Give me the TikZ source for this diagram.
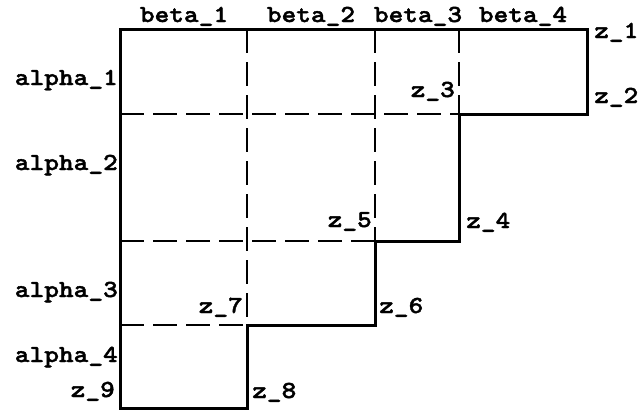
\documentclass[tikz,border=0pt]{standalone}
\usepackage{fontspec}
\newfontfamily\courfont[FakeStretch=1.143,FakeBold=1.6]{lmmonolt10-bold.otf}
\begin{document}
\begin{tikzpicture}[x=1pt,y=-1pt,
  outline/.style={line width=3pt},
  grid/.style={line width=1.5pt,dash pattern=on 24pt off 9pt},
  lbl/.style={inner sep=0pt,font=\fontsize{24.5}{28}\selectfont\courfont}]
\useasboundingbox (0,0) rectangle (639,413);
% corner coordinates
\coordinate (z1) at (587,29);
\coordinate (z2) at (587,114);
\coordinate (z3) at (459,114);
\coordinate (z4) at (459,241);
\coordinate (z5) at (375,241);
\coordinate (z6) at (375,325);
\coordinate (z7) at (247,325);
\coordinate (z8) at (247,408);
\coordinate (z9) at (120,408);
\coordinate (z0) at (120,29);
% dashed grid
\draw[grid] (247,29) -- (z7);
\draw[grid] (375,29) -- (z5);
\draw[grid] (459,29) -- (z3);
\draw[grid] (120,114) -- (z3);
\draw[grid] (120,241) -- (z5);
\draw[grid] (120,325) -- (z7);
% outline
\draw[outline] (z0) -- (z1) -- (z2) -- (z3) -- (z4) -- (z5) -- (z6) -- (z7) -- (z8) -- (z9) -- cycle;
% column labels
\node[lbl,anchor=base] (b1) at (184,22) {beta\_1};
\node[lbl,anchor=base] (b2) at (311,22) {beta\_2};
\node[lbl,anchor=base] (b3) at (418,22) {beta\_3};
\node[lbl,anchor=base] (b4) at (523,22) {beta\_4};
% row labels
\node[lbl,anchor=base east] (a1) at (118,85) {alpha\_1};
\node[lbl,anchor=base east] (a2) at (118,170) {alpha\_2};
\node[lbl,anchor=base east] (a3) at (118,297) {alpha\_3};
\node[lbl,anchor=base east] (a4) at (118,362) {alpha\_4};
% z labels
\node[lbl,anchor=base west] (l1) at (594,38) {z\_1};
\node[lbl,anchor=base west] (l2) at (594,103) {z\_2};
\node[lbl,anchor=base east] (l3) at (455,97) {z\_3};
\node[lbl,anchor=base west] (l4) at (466,228) {z\_4};
\node[lbl,anchor=base east] (l5) at (372,227) {z\_5};
\node[lbl,anchor=base west] (l6) at (379,313) {z\_6};
\node[lbl,anchor=base east] (l7) at (243,313) {z\_7};
\node[lbl,anchor=base west] (l8) at (252,398) {z\_8};
\node[lbl,anchor=base east] (l9) at (115,397) {z\_9};
\end{tikzpicture}
\end{document}
